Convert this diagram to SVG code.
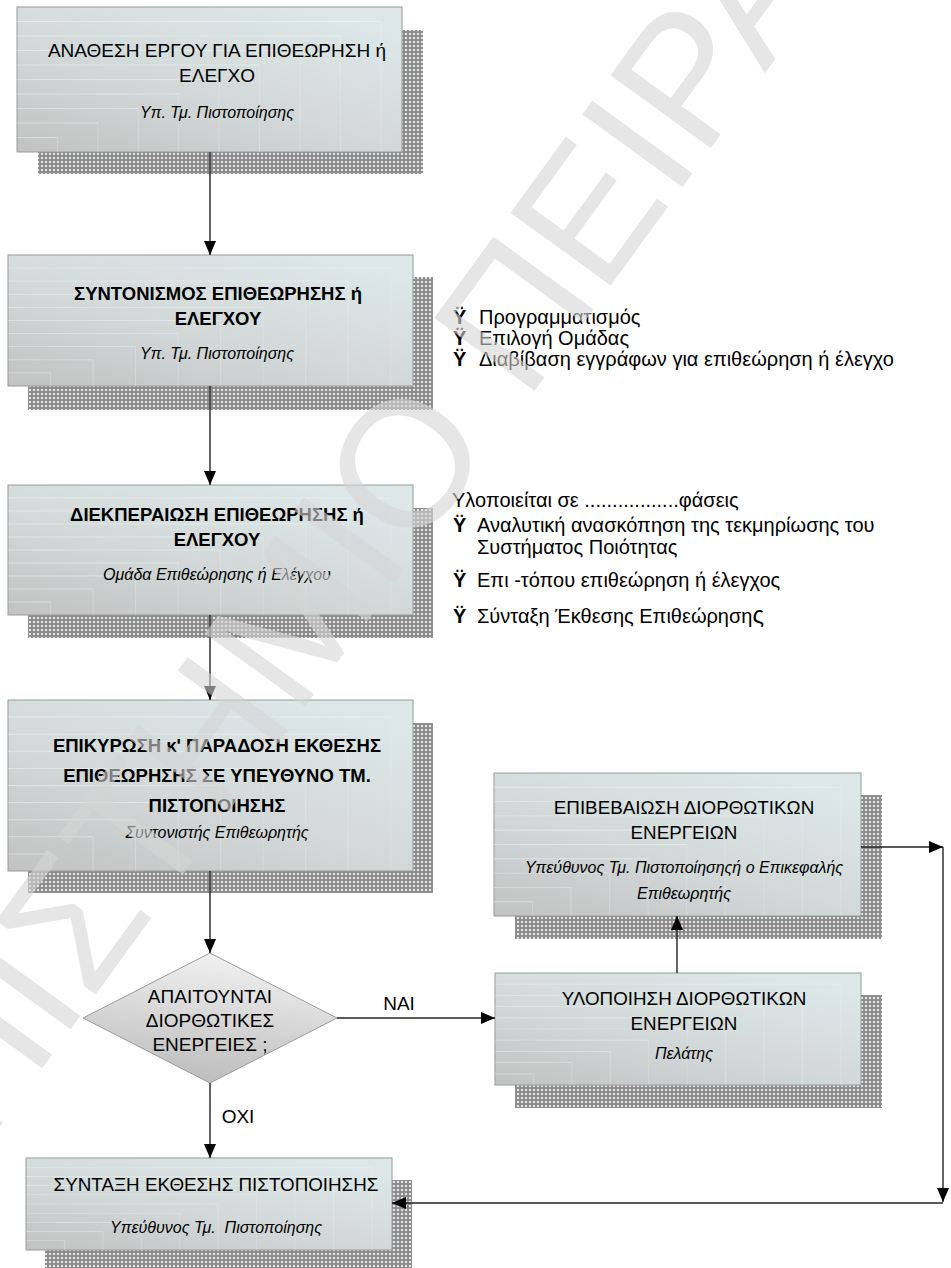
<svg xmlns="http://www.w3.org/2000/svg" width="951" height="1268" viewBox="0 0 951 1268">
  <defs>
    <style>
      .t { font-family: "Liberation Sans", Arial, sans-serif; font-size: 19px; fill: #000; text-anchor: middle; }
      .b { font-weight: bold; font-size: 18.5px; }
      .i { font-style: italic; font-size: 16px; }
      .side { font-family: "Liberation Sans", Arial, sans-serif; font-size: 20px; fill: #000; }
      .bul { font-weight: bold; }
      .box { fill: url(#boxGrad); stroke: #9a9a9a; stroke-width: 1; }
      .tex { fill: url(#steps); stroke: none; }
      .shadow { fill: url(#dots); }
      .dia { fill: url(#diaGrad); stroke: #9a9a9a; stroke-width: 1; }
      .conn { fill: none; stroke: #222; stroke-width: 1.4; marker-end: url(#arrow); }
      .wm { font-family: "Liberation Sans", Arial, sans-serif; font-size: 180px; fill: #d6d6d6; opacity: 0.6; }
    </style>
    <linearGradient id="boxGrad" x1="0" y1="1" x2="0.75" y2="0">
      <stop offset="0" stop-color="#c2c2c2"/>
      <stop offset="0.5" stop-color="#d3d9d9"/>
      <stop offset="1" stop-color="#dde7e7"/>
    </linearGradient>
    <!-- stepped bands of the box fill -->
    <pattern id="steps" width="1" height="1" patternUnits="objectBoundingBox" patternContentUnits="objectBoundingBox">
      <g fill="none" stroke="#f4f8f8" stroke-opacity="0.45">
        <path stroke-width="0.006" d="M0,0.9 H0.105 M0,0.8 H0.21 M0,0.7 H0.315 M0,0.6 H0.42 M0,0.5 H0.525 M0,0.4 H0.63 M0,0.3 H0.735 M0,0.2 H0.84 M0,0.1 H0.945"/>
        <path stroke-width="0.002" d="M0.105,0.9 V1 M0.21,0.8 V1 M0.315,0.7 V1 M0.42,0.6 V1 M0.525,0.5 V1 M0.63,0.4 V1 M0.735,0.3 V1 M0.84,0.2 V1 M0.945,0.1 V1"/>
      </g>
    </pattern>
    <linearGradient id="diaGrad" x1="0.6" y1="0" x2="0.4" y2="1">
      <stop offset="0" stop-color="#f2f2f2"/>
      <stop offset="1" stop-color="#bcbcbc"/>
    </linearGradient>
    <pattern id="dots" width="4" height="4" patternUnits="userSpaceOnUse">
      <rect width="4" height="4" fill="#8e8e8e"/>
      <rect x="1" y="1" width="2" height="2" fill="#e6e6e6"/>
    </pattern>
    <marker id="arrow" markerUnits="userSpaceOnUse" markerWidth="14" markerHeight="12" refX="14" refY="6" orient="auto">
      <path d="M0,0 L14,6 L0,12 z" fill="#000"/>
    </marker>
  </defs>

  <rect width="951" height="1268" fill="#fff"/>

  <!-- assignment of the job -->
  <g id="node-anathesi">
    <rect class="shadow" x="38" y="30" width="385" height="144"/>
    <rect class="box" x="17" y="7" width="385" height="145"/>
    <rect class="tex" x="17" y="7" width="385" height="145"/>
    <text class="t" x="217" y="57">ΑΝΑΘΕΣΗ ΕΡΓΟΥ ΓΙΑ ΕΠΙΘΕΩΡΗΣΗ ή</text>
    <text class="t" x="217" y="82">ΕΛΕΓΧΟ</text>
    <text class="t i" x="217" y="118">Υπ. Τμ. Πιστοποίησης</text>
  </g>

  <!-- coordination -->
  <g id="node-syntonismos">
    <rect class="shadow" x="28" y="277" width="405" height="133"/>
    <rect class="box" x="8" y="255" width="405" height="131"/>
    <rect class="tex" x="8" y="255" width="405" height="131"/>
    <text class="t b" x="218" y="300">ΣΥΝΤΟΝΙΣΜΟΣ ΕΠΙΘΕΩΡΗΣΗΣ ή</text>
    <text class="t b" x="218" y="325">ΕΛΕΓΧΟΥ</text>
    <text class="t i" x="217" y="359">Υπ. Τμ. Πιστοποίησης</text>
  </g>

  <!-- execution -->
  <g id="node-diekperaiosi">
    <rect class="shadow" x="28" y="508" width="405" height="130"/>
    <rect class="box" x="8" y="485" width="405" height="130"/>
    <rect class="tex" x="8" y="485" width="405" height="130"/>
    <text class="t b" x="217" y="521">ΔΙΕΚΠΕΡΑΙΩΣΗ ΕΠΙΘΕΩΡΗΣΗΣ ή</text>
    <text class="t b" x="217" y="546">ΕΛΕΓΧΟΥ</text>
    <text class="t i" x="217" y="580">Ομάδα Επιθεώρησης ή Ελέγχου</text>
  </g>

  <!-- validation and delivery of the report -->
  <g id="node-epikyrosi">
    <rect class="shadow" x="28" y="723" width="405" height="170"/>
    <rect class="box" x="8" y="700" width="405" height="171"/>
    <rect class="tex" x="8" y="700" width="405" height="171"/>
    <text class="t b" x="217" y="752">ΕΠΙΚΥΡΩΣΗ κ' ΠΑΡΑΔΟΣΗ ΕΚΘΕΣΗΣ</text>
    <text class="t b" x="217" y="782">ΕΠΙΘΕΩΡΗΣΗΣ ΣΕ ΥΠΕΥΘΥΝΟ ΤΜ.</text>
    <text class="t b" x="217" y="812">ΠΙΣΤΟΠΟΙΗΣΗΣ</text>
    <text class="t i" x="217" y="838">Συντονιστής Επιθεωρητής</text>
  </g>

  <!-- decision -->
  <g id="node-apofasi">
    <polygon class="dia" points="210,953 337,1018 210,1083 83,1018"/>
    <text class="t" x="210" y="1003">ΑΠΑΙΤΟΥΝΤΑΙ</text>
    <text class="t" x="210" y="1027">ΔΙΟΡΘΩΤΙΚΕΣ</text>
    <text class="t" x="210" y="1051">ΕΝΕΡΓΕΙΕΣ ;</text>
  </g>

  <!-- confirmation of corrective actions -->
  <g id="node-epivevaiosi">
    <rect class="shadow" x="515" y="795" width="367" height="144"/>
    <rect class="box" x="494" y="773" width="367" height="143"/>
    <rect class="tex" x="494" y="773" width="367" height="143"/>
    <text class="t" x="684" y="814" style="font-size:18.8px">ΕΠΙΒΕΒΑΙΩΣΗ ΔΙΟΡΘΩΤΙΚΩΝ</text>
    <text class="t" x="684" y="839" style="font-size:18.8px">ΕΝΕΡΓΕΙΩΝ</text>
    <text class="t i" x="684" y="873">Υπεύθυνος Τμ. Πιστοποίησηςή ο Επικεφαλής</text>
    <text class="t i" x="684" y="899">Επιθεωρητής</text>
  </g>

  <!-- implementation of corrective actions -->
  <g id="node-ylopoiisi">
    <rect class="shadow" x="515" y="995" width="367" height="113"/>
    <rect class="box" x="495" y="973" width="366" height="112"/>
    <rect class="tex" x="495" y="973" width="366" height="112"/>
    <text class="t" x="684" y="1005" style="font-size:18.8px">ΥΛΟΠΟΙΗΣΗ ΔΙΟΡΘΩΤΙΚΩΝ</text>
    <text class="t" x="684" y="1030" style="font-size:18.8px">ΕΝΕΡΓΕΙΩΝ</text>
    <text class="t i" x="684" y="1059">Πελάτης</text>
  </g>

  <!-- certification report -->
  <g id="node-syntaxi">
    <rect class="shadow" x="45" y="1180" width="367" height="92"/>
    <rect class="box" x="26" y="1158" width="366" height="92"/>
    <rect class="tex" x="26" y="1158" width="366" height="92"/>
    <text class="t" x="216" y="1191" style="font-size:18.8px">ΣΥΝΤΑΞΗ ΕΚΘΕΣΗΣ ΠΙΣΤΟΠΟΙΗΣΗΣ</text>
    <text class="t i" x="216" y="1233" xml:space="preserve">Υπεύθυνος Τμ.  Πιστοποίησης</text>
  </g>

  <!-- notes beside the coordination step -->
  <g id="notes-syntonismos" class="side">
    <text class="bul" x="453" y="324">Ÿ</text>
    <text x="479" y="324">Προγραμματισμός</text>
    <text class="bul" x="453" y="345">Ÿ</text>
    <text x="479" y="345">Επιλογή Ομάδας</text>
    <text class="bul" x="453" y="366">Ÿ</text>
    <text x="479" y="366">Διαβίβαση εγγράφων για επιθεώρηση ή έλεγχο</text>
  </g>

  <!-- notes beside the execution step -->
  <g id="notes-diekperaiosi" class="side">
    <text x="452" y="507">Υλοποιείται σε .................φάσεις</text>
    <text class="bul" x="453" y="532">Ÿ</text>
    <text x="477" y="532">Αναλυτική ανασκόπηση της τεκμηρίωσης του</text>
    <text x="477" y="554">Συστήματος Ποιότητας</text>
    <text class="bul" x="453" y="587">Ÿ</text>
    <text x="477" y="587">Επι -τόπου επιθεώρηση ή έλεγχος</text>
    <text class="bul" x="453" y="623">Ÿ</text>
    <text x="477" y="623">Σύνταξη Έκθεσης Επιθεώρηση<tspan style="font-size:24px">ς</tspan></text>
  </g>

  <!-- connectors -->
  <g id="connectors">
    <path class="conn" d="M210,152 V255"/>
    <path class="conn" d="M210,386 V485"/>
    <path class="conn" d="M210,615 V700"/>
    <path class="conn" d="M210,871 V953"/>
    <path class="conn" d="M337,1018 H495"/>
    <path class="conn" d="M210,1083 V1158"/>
    <path class="conn" d="M677,973 V916"/>
    <path class="conn" d="M861,847 H943"/>
    <path class="conn" d="M943,847 V1202"/>
    <path class="conn" d="M943,1203 H392"/>
    <text class="t" x="399" y="1010">ΝΑΙ</text>
    <text class="t" x="238" y="1123">ΟΧΙ</text>
  </g>

  <!-- diagonal watermark -->
  <g id="watermark">
    <text class="wm" transform="translate(455,500) rotate(-54)" x="-1301" y="0">ΠΑΝΕΠΙΣΤΗΜΙΟ ΠΕΙΡΑΙΑ</text>
  </g>
</svg>
